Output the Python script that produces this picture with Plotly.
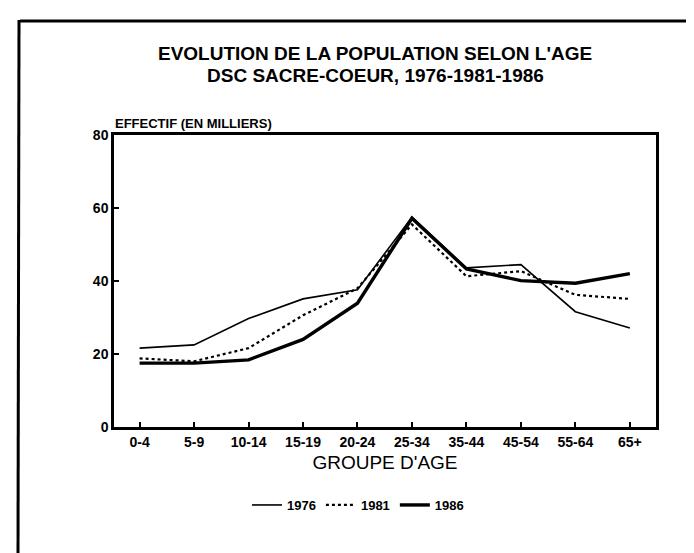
import plotly.graph_objects as go

age_groups = ["0-4", "5-9", "10-14", "15-19", "20-24", "25-34", "35-44", "45-54", "55-64", "65+"]
pop_1976 = [21.6, 22.5, 29.7, 35.1, 37.6, 57.5, 43.6, 44.5, 31.6, 27.1]
pop_1981 = [18.8, 18.0, 21.6, 30.6, 38.0, 55.5, 41.3, 42.7, 36.2, 35.1]
pop_1986 = [17.5, 17.5, 18.4, 24.0, 33.9, 57.2, 43.3, 40.1, 39.4, 42.0]
y_ticks = [0, 20, 40, 60, 80]

FONT = "Liberation Sans"
x_idx = list(range(len(age_groups)))

# plot area in pixels
L, R, T, B = 106, 648, 127, 419
W, H = R - L, B - T


def px(x):
    return (x - L) / W


def py(y):
    return (B - y) / H


fig = go.Figure()
fig.add_trace(go.Scatter(x=x_idx, y=pop_1976, mode="lines", name="1976",
                         line=dict(color="black", width=1.6)))
fig.add_trace(go.Scatter(x=x_idx, y=pop_1981, mode="lines", name="1981",
                         line=dict(color="black", width=2.2, dash="dot")))
fig.add_trace(go.Scatter(x=x_idx, y=pop_1986, mode="lines", name="1986",
                         line=dict(color="black", width=3.4)))

fig.update_layout(
    width=694, height=553,
    margin=dict(l=L, r=694 - R, t=T, b=553 - B),
    paper_bgcolor="white", plot_bgcolor="white",
    font=dict(family=FONT, color="black"),
    showlegend=True,
    legend=dict(orientation="h", x=px(350), y=py(497), xanchor="center", yanchor="middle",
                font=dict(family=FONT, size=13, weight="bold"), bgcolor="rgba(0,0,0,0)",
                itemwidth=30, tracegroupgap=0),
    xaxis=dict(
        range=[-0.47, 9.48], tickmode="array", tickvals=x_idx, ticktext=age_groups,
        ticks="inside", ticklen=5, tickwidth=2, tickcolor="black",
        showline=True, linecolor="black", linewidth=2.5, mirror=True,
        showgrid=False, zeroline=False,
        tickfont=dict(family=FONT, size=14, weight="bold"),
        title=dict(text="GROUPE D'AGE", font=dict(family=FONT, size=19), standoff=8),
    ),
    yaxis=dict(
        range=[0, 80], tickmode="array", tickvals=y_ticks,
        ticks="inside", ticklen=5, tickwidth=2, tickcolor="black",
        showline=True, linecolor="black", linewidth=2.5, mirror=True,
        showgrid=False, zeroline=False,
        tickfont=dict(family=FONT, size=14, weight="bold"),
    ),
    annotations=[
        dict(text="EVOLUTION DE LA POPULATION SELON L'AGE", xref="paper", yref="paper",
             x=px(367), y=py(45), xanchor="center", yanchor="middle", showarrow=False,
             font=dict(family=FONT, size=19, weight="bold")),
        dict(text="DSC SACRE-COEUR, 1976-1981-1986", xref="paper", yref="paper",
             x=px(367), y=py(67), xanchor="center", yanchor="middle", showarrow=False,
             font=dict(family=FONT, size=19, weight="bold")),
        dict(text="EFFECTIF (EN MILLIERS)", xref="paper", yref="paper",
             x=px(105), y=py(116), xanchor="left", yanchor="middle", showarrow=False,
             font=dict(family=FONT, size=13, weight="bold")),
    ],
    shapes=[
        dict(type="line", xref="paper", yref="paper",
             x0=px(12), x1=px(700), y0=py(13), y1=py(13),
             line=dict(color="black", width=3)),
        dict(type="line", xref="paper", yref="paper",
             x0=px(11), x1=px(10), y0=py(12), y1=py(551),
             line=dict(color="black", width=3)),
        dict(type="line", xref="paper", yref="paper",
             x0=px(9), x1=px(390), y0=py(551), y1=py(551),
             line=dict(color="black", width=2)),
    ],
)

fig.write_html("out.html")
